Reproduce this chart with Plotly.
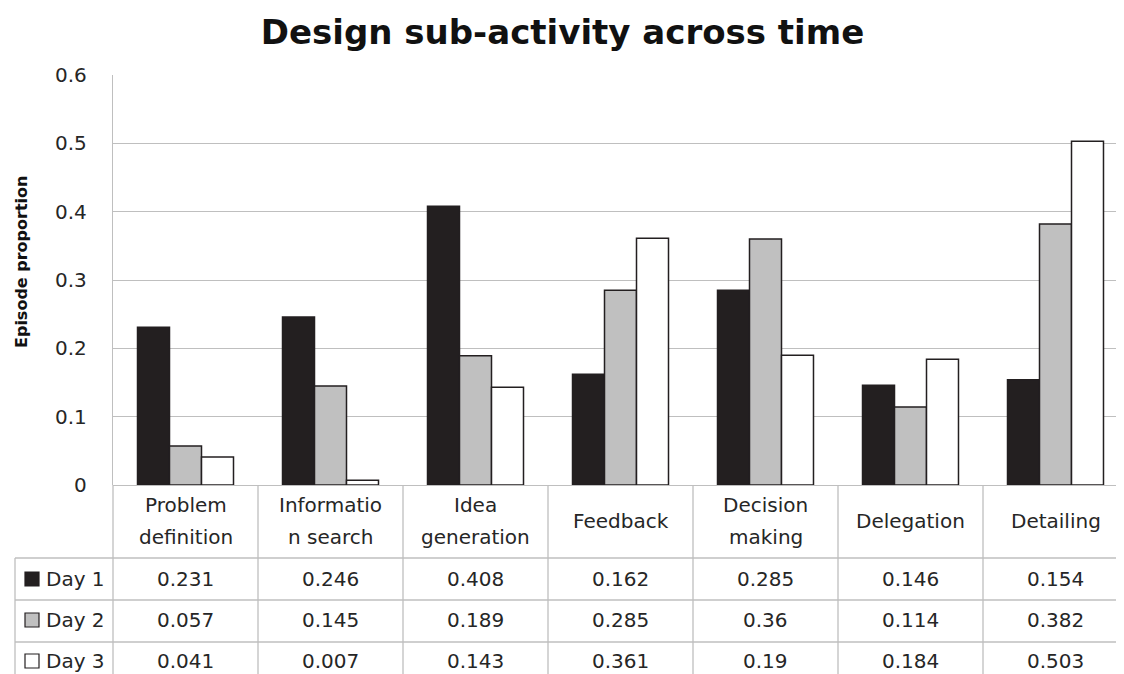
import plotly.graph_objects as go

categories = ["Problem definition", "Information search", "Idea generation", "Feedback",
              "Decision making", "Delegation", "Detailing"]
header_labels = ["Problem<br>definition", "Informatio<br>n search", "Idea<br>generation", "Feedback",
                 "Decision<br>making", "Delegation", "Detailing"]
series_names = ["Day 1", "Day 2", "Day 3"]
day1 = [0.231, 0.246, 0.408, 0.162, 0.285, 0.146, 0.154]
day2 = [0.057, 0.145, 0.189, 0.285, 0.36, 0.114, 0.382]
day3 = [0.041, 0.007, 0.143, 0.361, 0.19, 0.184, 0.503]
y_ticks = [0, 0.1, 0.2, 0.3, 0.4, 0.5, 0.6]
y_tick_text = ["0", "0.1", "0.2", "0.3", "0.4", "0.5", "0.6"]
y_title = "Episode proportion"
chart_title = "Design sub-activity across time"

series_values = [day1, day2, day3]
colors = ["#231F20", "#C0C0C0", "#FFFFFF"]

# page offset of the plotly div (default body margin)
OFF = 8
PAGE_W, PAGE_H = 1124, 674
W, H = PAGE_W - OFF, PAGE_H - OFF
# positions below are in page pixels
L_PG, T_PG, B_PG = 113, 75, 485
L, T, B = L_PG - OFF, T_PG - OFF, B_PG - OFF
CAT_W = 145.0
plot_w = W - L
FONT = "DejaVu Sans"
TXT = "#262626"
GRID = "#BFBFBF"


def xp(px):
    return (px - L_PG) / plot_w


def yp(px):
    return (B_PG - px) / (B - T)


def cat_x(i):
    return xp(L_PG + CAT_W * (i + 0.5))


fig = go.Figure()
for name, vals, c in zip(series_names, series_values, colors):
    fig.add_trace(go.Bar(
        x=list(range(len(categories))), y=vals, name=name,
        marker=dict(color=c, line=dict(color="#231F20", width=1.5)),
        hovertext=categories,
    ))

shapes = []
annotations = []

# table horizontal lines
row_lines = [558, 600, 642]
for ypx in row_lines:
    shapes.append(dict(type="line", xref="paper", yref="paper", x0=xp(15), x1=xp(PAGE_W + 10),
                       y0=yp(ypx), y1=yp(ypx), line=dict(color=GRID, width=1.3)))
# vertical lines between categories
for i in range(len(categories) + 1):
    xv = xp(L_PG + CAT_W * i)
    shapes.append(dict(type="line", xref="paper", yref="paper", x0=xv, x1=xv,
                       y0=0, y1=yp(PAGE_H + 10), line=dict(color=GRID, width=1.3)))
# legend column left edge
shapes.append(dict(type="line", xref="paper", yref="paper", x0=xp(15), x1=xp(15),
                   y0=yp(558), y1=yp(PAGE_H + 10), line=dict(color=GRID, width=1.3)))

# header labels (one annotation per line, for Excel-like line spacing)
for i, lab in enumerate(header_labels):
    parts = lab.split("<br>")
    ys = [521] if len(parts) == 1 else [505, 537]
    for part, yy in zip(parts, ys):
        annotations.append(dict(x=cat_x(i), y=yp(yy), xref="paper", yref="paper", text=part,
                                showarrow=False, font=dict(family=FONT, size=20, color=TXT),
                                align="center", xanchor="center", yanchor="middle"))

row_centers = [579, 620, 661]
fmt = lambda v: ("%g" % v)
for r, (name, vals, c) in enumerate(zip(series_names, series_values, colors)):
    yc = row_centers[r]
    for i, v in enumerate(vals):
        annotations.append(dict(x=cat_x(i), y=yp(yc), xref="paper", yref="paper", text=fmt(v),
                                showarrow=False, font=dict(family=FONT, size=20, color=TXT),
                                xanchor="center", yanchor="middle"))
    # legend key
    shapes.append(dict(type="rect", xref="paper", yref="paper", x0=xp(25), x1=xp(39),
                       y0=yp(yc + 7), y1=yp(yc - 7), fillcolor=c,
                       line=dict(color="#231F20", width=1.2)))
    annotations.append(dict(x=xp(44), y=yp(yc), xref="paper", yref="paper", text=name,
                            showarrow=False, font=dict(family=FONT, size=20, color=TXT),
                            xanchor="left", yanchor="middle"))

# y-axis title
annotations.append(dict(x=xp(22), y=yp(262), xref="paper", yref="paper",
                        text="<b>" + y_title + "</b>", textangle=-90, showarrow=False,
                        font=dict(family=FONT, size=16, color="#111111"),
                        xanchor="center", yanchor="middle"))

fig.update_layout(
    width=W, height=H,
    margin=dict(l=L, r=0, t=T, b=H - B, pad=0),
    paper_bgcolor="white", plot_bgcolor="white",
    barmode="group", bargap=0.338, bargroupgap=0,
    showlegend=False,
    title=dict(text="<b>" + chart_title + "</b>", x=(562.5 - OFF) / W, xref="container",
               xanchor="center", y=1 - (32 - OFF) / H, yanchor="middle", yref="container",
               font=dict(family=FONT, size=34, color="#111111")),
    xaxis=dict(range=[-0.5, -0.5 + plot_w / CAT_W], showticklabels=False, showgrid=False,
               zeroline=False, showline=False, ticks="", automargin=False),
    yaxis=dict(range=[0, 0.6], tickvals=y_ticks, ticktext=y_tick_text, automargin=False,
               showgrid=True, gridcolor=GRID, gridwidth=1.3, zeroline=True, zerolinecolor=GRID,
               zerolinewidth=1.3, showline=True, linecolor=GRID, linewidth=1.3,
               ticks="", ticklabelstandoff=21,
               tickfont=dict(family=FONT, size=20, color=TXT)),
    shapes=shapes, annotations=annotations,
)

fig.write_html("out.html")
